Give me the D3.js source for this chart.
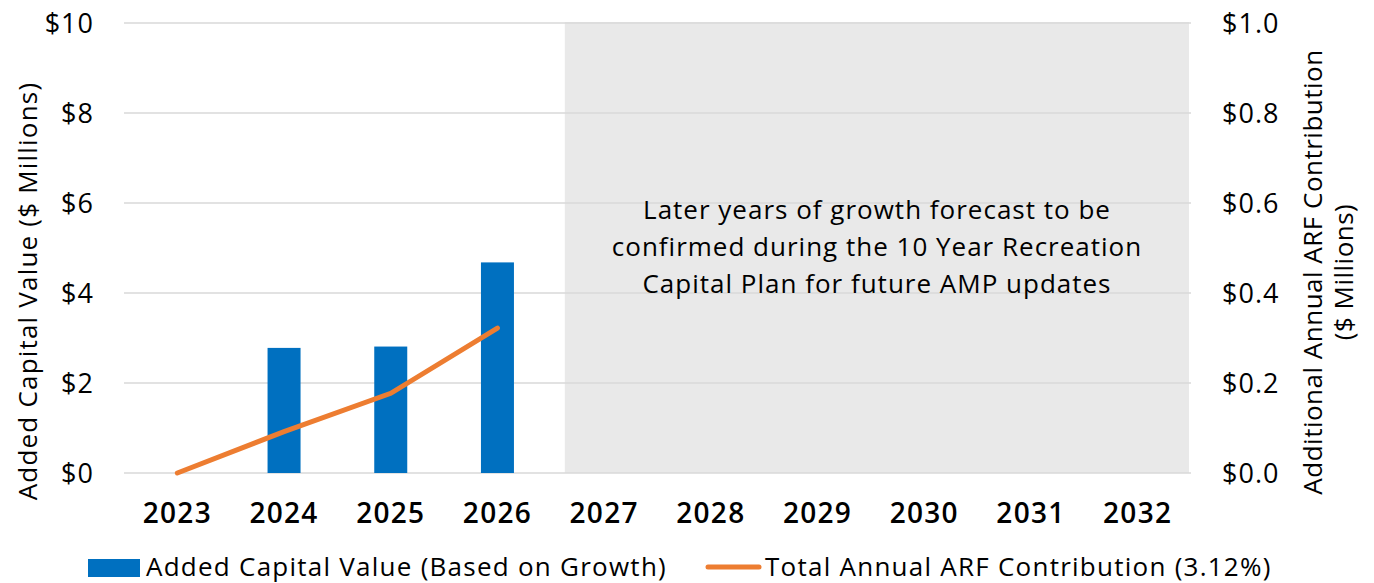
<!DOCTYPE html>
<html>
<head>
<meta charset="utf-8">
<script src="https://cdn.jsdelivr.net/npm/d3@7"></script>
<style>
  body { margin: 0; background: #fff; }
  text { font-family: "Open Sans", sans-serif; fill: #000; }
</style>
</head>
<body>
<div id="chart"></div>
<script>
// chart data
var years = ["2023","2024","2025","2026","2027","2028","2029","2030","2031","2032"];
var capitalValue = [0, 2.78, 2.81, 4.68, null, null, null, null, null, null];
var arfContribution = [0, 0.092, 0.177, 0.322];
var leftTicks = [0, 2, 4, 6, 8, 10];
var rightTicks = [0, 0.2, 0.4, 0.6, 0.8, 1.0];
var noteLines = ["Later years of growth forecast to be",
                 "confirmed during the 10 Year Recreation",
                 "Capital Plan for future AMP updates"];

var W = 1374, H = 583;
var pLeft = 124, pRight = 1191, pTop = 23, pBottom = 473;

var svg = d3.select("#chart").append("svg")
            .attr("width", W)
            .attr("height", H);

var x = d3.scaleBand().domain(years).range([pLeft, pRight]);
var y = d3.scaleLinear().domain([0, 10]).range([pBottom, pTop]);
var y2 = d3.scaleLinear().domain([0, 1]).range([pBottom, pTop]);

// gray forecast box
svg.append("rect")
   .attr("x", x("2027") + 14)
   .attr("y", pTop - 1)
   .attr("width", pRight - 2 - (x("2027") + 14))
   .attr("height", pBottom - pTop + 1)
   .style("fill", "#e9e9e9");

// gridlines
svg.append("g").selectAll("line")
   .data(leftTicks)
   .enter()
   .append("line")
   .attr("x1", pLeft)
   .attr("x2", pRight)
   .attr("y1", function(d){ return y(d); })
   .attr("y2", function(d){ return y(d); })
   .attr("stroke", "#d9d9d9")
   .attr("stroke-width", 1.5);

// left axis
var yAxis = svg.append("g")
   .attr("transform", "translate(" + pLeft + ",0)")
   .call(d3.axisLeft(y).tickValues(leftTicks).tickSize(0).tickPadding(30)
           .tickFormat(function(d){ return "$" + d; }));
yAxis.select(".domain").remove();
yAxis.selectAll("text").attr("font-size", "27px").attr("dy", "0.34em")
     .attr("letter-spacing", "1px")
     .style("font-family", "'Open Sans', sans-serif");

// right axis
var y2Axis = svg.append("g")
   .attr("transform", "translate(" + pRight + ",0)")
   .call(d3.axisRight(y2).tickValues(rightTicks).tickSize(0).tickPadding(31)
           .tickFormat(function(d){ return "$" + d.toFixed(1); }));
y2Axis.select(".domain").remove();
y2Axis.selectAll("text").attr("font-size", "27px").attr("dy", "0.34em")
      .attr("letter-spacing", "1px")
      .style("font-family", "'Open Sans', sans-serif");

// x axis
var xAxis = svg.append("g")
   .attr("transform", "translate(0," + pBottom + ")")
   .call(d3.axisBottom(x).tickSize(0).tickPadding(30));
xAxis.select(".domain").remove();
xAxis.selectAll("text").attr("font-size", "28px").attr("font-weight", "600")
     .attr("letter-spacing", "1.3px")
     .style("font-family", "'Open Sans', sans-serif");

// bars
var barW = 33;
svg.append("g").selectAll("rect")
   .data(years.map(function(d, i){ return {year: d, v: capitalValue[i]}; })
              .filter(function(d){ return d.v; }))
   .enter()
   .append("rect")
   .attr("x", function(d){ return x(d.year) + x.bandwidth()/2 - barW/2; })
   .attr("y", function(d){ return y(d.v); })
   .attr("width", barW)
   .attr("height", function(d){ return pBottom - y(d.v); })
   .style("fill", "#0070c0");

// line
var line = d3.line()
   .x(function(d, i){ return x(years[i]) + x.bandwidth()/2; })
   .y(function(d){ return y2(d); });

svg.append("path")
   .datum(arfContribution)
   .attr("d", line)
   .attr("fill", "none")
   .attr("stroke", "#ed7d31")
   .attr("stroke-width", 5)
   .attr("stroke-linecap", "round");

// note text
var note = svg.append("text")
   .attr("x", 877)
   .attr("y", 219)
   .attr("text-anchor", "middle")
   .attr("font-size", "26px")
   .attr("letter-spacing", "1px");
note.selectAll("tspan")
   .data(noteLines)
   .enter()
   .append("tspan")
   .attr("x", 877)
   .attr("dy", function(d, i){ return i == 0 ? 0 : 37; })
   .text(function(d){ return d; });

// axis titles
svg.append("text")
   .attr("transform", "translate(37,291) rotate(-90)")
   .attr("text-anchor", "middle")
   .attr("font-size", "26px")
   .attr("letter-spacing", "1.2px")
   .text("Added Capital Value ($ Millions)");

var rt = svg.append("text")
   .attr("transform", "translate(1322,272) rotate(-90)")
   .attr("text-anchor", "middle")
   .attr("font-size", "26px")
   .attr("letter-spacing", "0.5px");
rt.append("tspan").attr("x", 0).attr("dy", 0).text("Additional Annual ARF Contribution");
rt.append("tspan").attr("x", 0).attr("dy", 31).text("($ Millions)");

// legend
svg.append("rect")
   .attr("x", 88).attr("y", 559)
   .attr("width", 52).attr("height", 18)
   .style("fill", "#0070c0");
svg.append("text")
   .attr("x", 146).attr("y", 576)
   .attr("font-size", "26px")
   .attr("letter-spacing", "1.25px")
   .text("Added Capital Value (Based on Growth)");

svg.append("line")
   .attr("x1", 708).attr("x2", 759)
   .attr("y1", 567).attr("y2", 567)
   .attr("stroke", "#ed7d31")
   .attr("stroke-width", 5)
   .attr("stroke-linecap", "round");
svg.append("text")
   .attr("x", 765).attr("y", 576)
   .attr("font-size", "26px")
   .attr("letter-spacing", "1.25px")
   .text("Total Annual ARF Contribution (3.12%)");
</script>
</body>
</html>
